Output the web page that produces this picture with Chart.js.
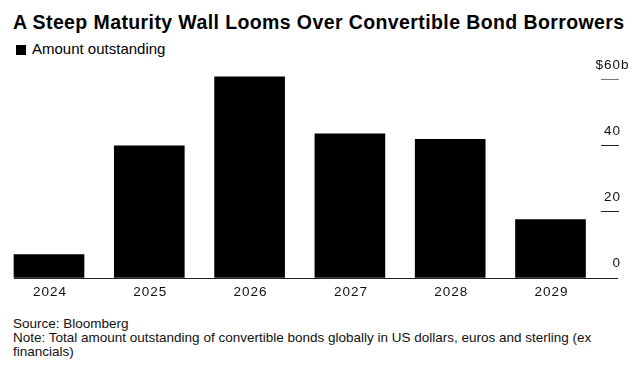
<!DOCTYPE html>
<html>
<head>
<meta charset="utf-8">
<script src="https://cdn.jsdelivr.net/npm/chart.js@4"></script>
<style>
  body { margin: 0; width: 644px; height: 370px; background: #fff; overflow: hidden; position: relative; font-family: "Liberation Sans", Arial, sans-serif; color: #000; }
  .title { position: absolute; left: 13px; top: 11px; font-size: 19.5px; letter-spacing: 0.4px; font-weight: bold; line-height: 22px; white-space: nowrap; }
  .legend { position: absolute; left: 16px; top: 40px; font-size: 15px; line-height: 17px; white-space: nowrap; }
  .legend span { display: inline-block; width: 10px; height: 10px; background: #000; margin-right: 6px; vertical-align: -1px; }
  .foot { position: absolute; left: 13px; top: 317px; font-size: 13.5px; line-height: 14px; color: #111; }
  #wrap { position: absolute; left: 0; top: 60px; width: 644px; height: 250px; }
</style>
</head>
<body>
<div class="title">A Steep Maturity Wall Looms Over Convertible Bond Borrowers</div>
<div class="legend"><span></span>Amount outstanding</div>
<div id="wrap"><canvas id="chart"></canvas></div>
<div class="foot">Source: Bloomberg<br>Note: Total amount outstanding of convertible bonds globally in US dollars, euros and sterling (ex<br>financials)</div>
<script>
// years on the x axis
const years = ['2024', '2025', '2026', '2027', '2028', '2029'];
// amount outstanding, $ billions
const amounts = [6.9, 39.8, 60.7, 43.4, 41.8, 17.5];
// y axis ticks
const yTicks = [0, 20, 40, 60];

// draws the baseline, right-hand tick labels and year labels
const axisDecor = {
  id: 'axisDecor',
  afterDatasetsDraw(chart) {
    const ctx = chart.ctx;
    const x = chart.scales.x;
    const y = chart.scales.y;
    ctx.save();
    const base = Math.round(y.getPixelForValue(0)) + 0.5;
    ctx.strokeStyle = '#222';
    ctx.lineWidth = 1;
    ctx.beginPath();
    ctx.moveTo(14, base);
    ctx.lineTo(618, base);
    ctx.stroke();

    ctx.font = '13.5px "Liberation Sans", Arial, sans-serif';
    ctx.letterSpacing = '1px';
    ctx.fillStyle = '#111';
    ctx.textBaseline = 'middle';
    yTicks.forEach((v) => {
      const py = y.getPixelForValue(v);
      if (v > 0) {
        ctx.strokeStyle = v === 60 ? '#777' : '#222';
        ctx.beginPath();
        ctx.moveTo(601, Math.round(py) + 0.5);
        ctx.lineTo(619, Math.round(py) + 0.5);
        ctx.stroke();
      }
      const top = v === yTicks[yTicks.length - 1];
      ctx.textAlign = 'right';
      ctx.fillText(top ? '$' + v : String(v), 621, py - 14);
      if (top) {
        ctx.textAlign = 'left';
        ctx.fillText('b', 621, py - 14);
      }
    });

    ctx.textAlign = 'center';
    years.forEach((lbl, i) => {
      ctx.fillText(lbl, x.getPixelForValue(i) + 1, y.getPixelForValue(0) + 15);
    });
    ctx.restore();
  },
};

const chartdata = {
  labels: years,
  datasets: [
    {
      data: amounts,
      backgroundColor: '#000',
      barThickness: 70,
      clip: false,
    },
  ],
};

const chartconfig = {
  type: 'bar',
  data: chartdata,
  plugins: [axisDecor],
  options: {
    responsive: true,
    maintainAspectRatio: false,
    animation: false,
    layout: { padding: { left: 49, right: 93.5, top: 2.5, bottom: 32.5 } },
    scales: {
      x: { offset: false, display: false },
      y: { min: 0, max: 65, display: false },
    },
    plugins: {
      legend: { display: false },
      tooltip: { enabled: false },
      title: { display: false },
    },
  },
};

const chart = new Chart('chart', chartconfig);
</script>
</body>
</html>
